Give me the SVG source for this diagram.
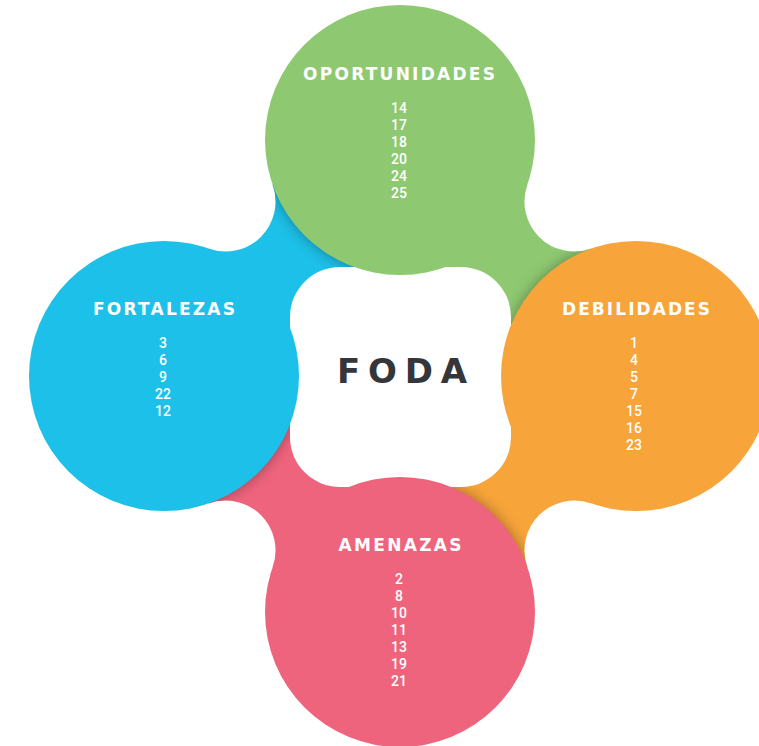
<svg xmlns="http://www.w3.org/2000/svg" width="759" height="746" viewBox="0 0 759 746">
  <style>
    .head { font-family: "DejaVu Sans", "Liberation Sans", sans-serif; font-weight: 700; font-size: 17px; fill: #ffffff; text-anchor: middle; }
    .num { font-family: Roboto, "Liberation Sans", sans-serif; font-weight: 500; font-size: 14px; fill: #ffffff; text-anchor: middle; }
    .title { font-family: "DejaVu Sans", "Liberation Sans", sans-serif; font-weight: 700; font-size: 34px; fill: #34363a; text-anchor: middle; }
    .shadow { fill: #000000; opacity: 0.35; }
  </style>
  <defs>
    <filter id="blur" x="-30%" y="-30%" width="160%" height="160%">
      <feGaussianBlur stdDeviation="7"/>
    </filter>
    <clipPath id="clipTL"><path d="M164 376 L208.4 248.5 A50 50 0 0 0 272.5 184.4 L400 140 L400 376 Z"/></clipPath>
    <clipPath id="clipTR"><path d="M400 140 L527.5 184.4 A50 50 0 0 0 591.6 248.5 L636 376 L400 376 Z"/></clipPath>
    <clipPath id="clipBR"><path d="M636 376 L591.6 503.5 A50 50 0 0 0 527.5 567.6 L400 612 L400 376 Z"/></clipPath>
    <clipPath id="clipBL"><path d="M400 612 L272.5 567.6 A50 50 0 0 0 208.4 503.5 L164 376 L400 376 Z"/></clipPath>
  </defs>
  <rect width="759" height="746" fill="#ffffff"/>

  <g id="connectors">
    <path fill="#1dc0e8" d="M164 376 L208.4 248.5 A50 50 0 0 0 272.5 184.4 L400 140 L400 376 Z"/>
    <path fill="#8ec971" d="M400 140 L527.5 184.4 A50 50 0 0 0 591.6 248.5 L636 376 L400 376 Z"/>
    <path fill="#f7a43a" d="M636 376 L591.6 503.5 A50 50 0 0 0 527.5 567.6 L400 612 L400 376 Z"/>
    <path fill="#ef647d" d="M400 612 L272.5 567.6 A50 50 0 0 0 208.4 503.5 L164 376 L400 376 Z"/>
    <g clip-path="url(#clipTL)"><circle class="shadow" cx="400" cy="140" r="135" filter="url(#blur)"/></g>
    <g clip-path="url(#clipTR)"><circle class="shadow" cx="636" cy="376" r="135" filter="url(#blur)"/></g>
    <g clip-path="url(#clipBR)"><circle class="shadow" cx="400" cy="612" r="135" filter="url(#blur)"/></g>
    <g clip-path="url(#clipBL)"><circle class="shadow" cx="164" cy="376" r="135" filter="url(#blur)"/></g>
  </g>

  <g id="foda">
    <rect x="290" y="267" width="221" height="220" rx="50" ry="50" fill="#ffffff"/>
  </g>

  <g id="oportunidades">
    <circle cx="400" cy="140" r="135" fill="#8ec971"/>
    <text class="head" x="399" y="80" textLength="192" lengthAdjust="spacing">OPORTUNIDADES</text>
    <text class="num" x="399" y="113">14</text>
    <text class="num" x="399" y="130">17</text>
    <text class="num" x="399" y="147">18</text>
    <text class="num" x="399" y="164">20</text>
    <text class="num" x="399" y="181">24</text>
    <text class="num" x="399" y="198">25</text>
  </g>

  <g id="fortalezas">
    <circle cx="164" cy="376" r="135" fill="#1dc0e8"/>
    <text class="head" x="164" y="315" textLength="142" lengthAdjust="spacing">FORTALEZAS</text>
    <text class="num" x="163" y="348">3</text>
    <text class="num" x="163" y="365">6</text>
    <text class="num" x="163" y="382">9</text>
    <text class="num" x="163" y="399">22</text>
    <text class="num" x="163" y="416">12</text>
  </g>

  <g id="debilidades">
    <circle cx="636" cy="376" r="135" fill="#f7a43a"/>
    <text class="head" x="636" y="315" textLength="148" lengthAdjust="spacing">DEBILIDADES</text>
    <text class="num" x="634" y="348">1</text>
    <text class="num" x="634" y="365">4</text>
    <text class="num" x="634" y="382">5</text>
    <text class="num" x="634" y="399">7</text>
    <text class="num" x="634" y="416">15</text>
    <text class="num" x="634" y="433">16</text>
    <text class="num" x="634" y="450">23</text>
  </g>

  <g id="amenazas">
    <circle cx="400" cy="612" r="135" fill="#ef647d"/>
    <text class="head" x="400" y="551" textLength="123" lengthAdjust="spacing">AMENAZAS</text>
    <text class="num" x="399" y="584">2</text>
    <text class="num" x="399" y="601">8</text>
    <text class="num" x="399" y="618">10</text>
    <text class="num" x="399" y="635">11</text>
    <text class="num" x="399" y="652">13</text>
    <text class="num" x="399" y="669">19</text>
    <text class="num" x="399" y="686">21</text>
  </g>

  <g id="foda-label">
    <text class="title" x="402" y="383" textLength="130" lengthAdjust="spacing">FODA</text>
  </g>
</svg>
